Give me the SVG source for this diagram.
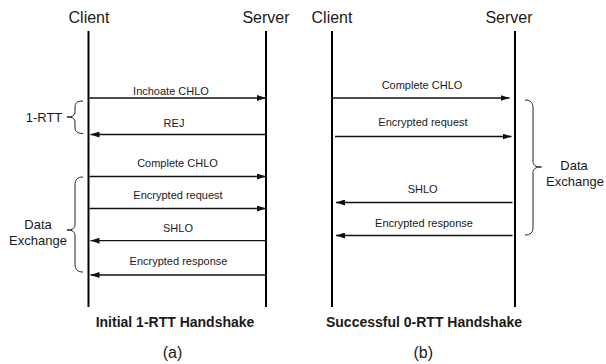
<svg xmlns="http://www.w3.org/2000/svg" width="606" height="364" viewBox="0 0 606 364">
<defs>
<marker id="ah" markerWidth="9" markerHeight="6" refX="9" refY="3" orient="auto" markerUnits="userSpaceOnUse">
<path d="M0,0 L9,3 L0,6 z" fill="#111"/>
</marker>
</defs>
<style>
text{font-family:"Liberation Sans",Arial,Helvetica,sans-serif;fill:#1a1a1a}
.hd{font-size:16px;text-anchor:middle}
.lb{font-size:11px;text-anchor:middle}
.br{font-size:13px;text-anchor:middle}
.tt{font-size:14px;font-weight:bold;text-anchor:middle}
.cap{font-size:16px;text-anchor:middle}
.life{stroke:#000;stroke-width:2;fill:none}
.msg{stroke:#111;stroke-width:1.3;fill:none;marker-end:url(#ah)}
.brace{stroke:#222;stroke-width:1;fill:none}
</style>
<rect width="606" height="364" fill="#fff"/>

<g id="a-client">
<text class="hd" x="89" y="23">Client</text>
<line class="life" x1="88.5" y1="31" x2="88.5" y2="307"/>
</g>
<g id="a-server">
<text class="hd" x="266" y="23">Server</text>
<line class="life" x1="266" y1="31" x2="266" y2="307"/>
</g>
<g id="b-client">
<text class="hd" x="332" y="22.7">Client</text>
<line class="life" x1="332" y1="31" x2="332" y2="307"/>
</g>
<g id="b-server">
<text class="hd" x="509" y="22.7">Server</text>
<line class="life" x1="515" y1="31" x2="515" y2="307"/>
</g>

<g id="connectors">
<line class="msg" x1="89.5" y1="98" x2="266" y2="98"/>
<line class="msg" x1="266" y1="134.5" x2="90.5" y2="134.5"/>
<line class="msg" x1="89.5" y1="176.5" x2="266" y2="176.5"/>
<line class="msg" x1="89.5" y1="208.5" x2="266" y2="208.5"/>
<line class="msg" x1="266" y1="240.7" x2="90.5" y2="240.7"/>
<line class="msg" x1="266" y1="275" x2="90.5" y2="275"/>

<line class="msg" x1="333" y1="98" x2="509.5" y2="98"/>
<line class="msg" x1="335" y1="136.5" x2="511.5" y2="136.5"/>
<line class="msg" x1="512.5" y1="202.5" x2="336" y2="202.5"/>
<line class="msg" x1="512.5" y1="235.5" x2="336" y2="235.5"/>
</g>

<g id="labels">
<text class="lb" x="171" y="95">Inchoate CHLO</text>
<text class="lb" x="174" y="127">REJ</text>
<text class="lb" x="177.5" y="166.7">Complete CHLO</text>
<text class="lb" x="178" y="198.5">Encrypted request</text>
<text class="lb" x="178" y="232.3">SHLO</text>
<text class="lb" x="178.5" y="265.2">Encrypted response</text>

<text class="lb" x="422" y="88.7">Complete CHLO</text>
<text class="lb" x="423" y="126.2">Encrypted request</text>
<text class="lb" x="422.7" y="193">SHLO</text>
<text class="lb" x="424" y="227.2">Encrypted response</text>
</g>

<g id="rtt-brace">
<path class="brace" d="M83,101 C77,101 75,103 75,107 L75,112 C75,115 73,117 67,117 C73,117 75,119 75,122 L75,128 C75,131 77,133.5 83,133.5"/>
<text class="br" x="44" y="122.3">1-RTT</text>
</g>

<g id="a-data-brace">
<path class="brace" d="M83,177 C77,177 75,180 75,185 L75,224 C75,228 73,230 67,230 C73,230 75,232 75,236 L75,264 C75,269 77,272 83,272"/>
<text class="br" x="38" y="229">Data</text>
<text class="br" x="38" y="244.5">Exchange</text>
</g>

<g id="b-data-brace">
<path class="brace" d="M525,100 C531,100 533,103 533,108 L533,161 C533,165 535,167 541.5,167 C535,167 533,169 533,173 L533,227 C533,232 531,235 525,235"/>
<text class="br" x="574" y="169.5">Data</text>
<text class="br" x="575" y="186.3">Exchange</text>
</g>

<g id="captions">
<text class="tt" x="175" y="326.5">Initial 1-RTT Handshake</text>
<text class="tt" x="424" y="326.5">Successful 0-RTT Handshake</text>
<text class="cap" x="172.5" y="358.3">(a)</text>
<text class="cap" x="423.3" y="358.3">(b)</text>
</g>
</svg>
